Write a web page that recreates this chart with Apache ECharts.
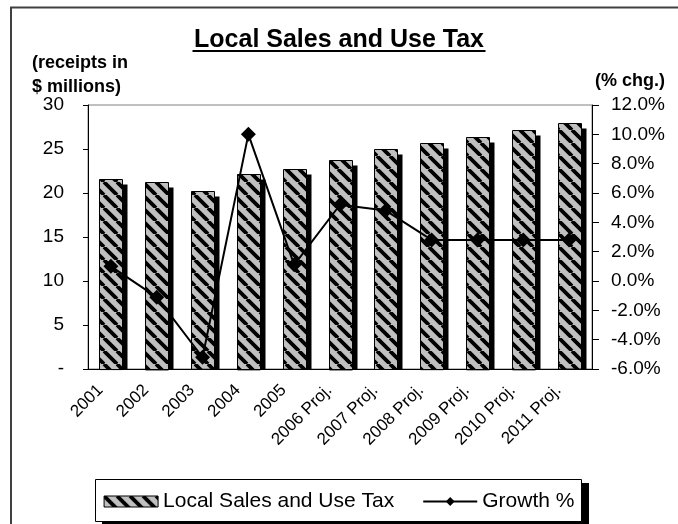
<!DOCTYPE html>
<html>
<head>
<meta charset="utf-8">
<script src="https://cdn.jsdelivr.net/npm/echarts@6/dist/echarts.min.js"></script>
<style>
  html, body { margin: 0; padding: 0; background: #fff; }
  #chart { width: 678px; height: 524px; }
</style>
</head>
<body>
<div id="chart"></div>
<script>
var years = ["2001", "2002", "2003", "2004", "2005", "2006 Proj.", "2007 Proj.",
  "2008 Proj.", "2009 Proj.", "2010 Proj.", "2011 Proj."];
var receipts = [21.6, 21.3, 20.2, 22.2, 22.7, 23.8, 25.0, 25.7, 26.4, 27.2, 27.9];
var growth = [1.0, -1.1, -5.2, 10.0, 1.1, 5.2, 4.8, 2.8, 2.8, 2.8, 2.8];
var leftTicks = { min: 0, max: 30, step: 5 };
var rightTicks = { min: -6, max: 12, step: 2 };

(function () {
  var font = "'Liberation Sans', Arial, sans-serif";

  // grey fill with black "\" hatching, like the old spreadsheet pattern
  function hatch() {
    var s = 13;
    var c = document.createElement("canvas");
    c.width = s;
    c.height = s;
    var ctx = c.getContext("2d");
    ctx.fillStyle = "#c0c0c0";
    ctx.fillRect(0, 0, s, s);
    ctx.strokeStyle = "#000";
    ctx.lineWidth = 3.8;
    ctx.beginPath();
    for (var k = -1; k <= 1; k++) {
      ctx.moveTo(k * s, 0);
      ctx.lineTo(k * s + s, s);
    }
    ctx.stroke();
    return c;
  }

  var pattern = { image: hatch(), repeat: "repeat" };
  var barData = receipts.map(function (v, i) { return [i, v]; });

  // hatched bar plus a solid black drop shadow to its lower right
  function renderBar(params, api) {
    var top = api.coord([api.value(0), api.value(1)]);
    var base = api.coord([api.value(0), 0]);
    var w = 23;
    var h = base[1] - top[1];
    var x = Math.round(top[0] - w / 2) + 0.5;
    var y = Math.round(top[1]) + 0.5;
    return {
      type: "group",
      children: [
        {
          type: "rect",
          shape: { x: x + 5, y: y + 5, width: w, height: h - 5 },
          style: { fill: "#000" }
        },
        {
          type: "rect",
          shape: { x: x, y: y, width: w, height: h },
          style: { fill: pattern, stroke: "#000", lineWidth: 1 }
        }
      ]
    };
  }

  var chart = echarts.init(document.getElementById("chart"), null, { renderer: "canvas" });

  chart.setOption({
    animation: false,
    textStyle: { fontFamily: font, color: "#000" },
    title: [
      {
        text: "Local Sales and Use Tax",
        left: "center",
        top: 28,
        padding: 0,
        textStyle: { fontSize: 25, fontWeight: "bold", color: "#000" }
      },
      {
        text: "(receipts in\n$ millions)",
        left: 32,
        top: 51,
        padding: 0,
        textStyle: { fontSize: 18, fontWeight: "bold", color: "#000", lineHeight: 24 }
      },
      {
        text: "(% chg.)",
        right: 13,
        top: 72,
        padding: 0,
        textStyle: { fontSize: 18, fontWeight: "bold", color: "#000" }
      }
    ],
    graphic: [
      {
        type: "rect",
        shape: { x: 11, y: 7.5, width: 700, height: 600 },
        style: { fill: null, stroke: "#404040", lineWidth: 2 },
        silent: true
      },
      {
        type: "rect",
        left: "center",
        top: 50,
        shape: { width: 293, height: 2 },
        style: { fill: "#000" },
        silent: true
      },
      {
        // legend frame with its drop shadow
        type: "rect",
        z: 1,
        shape: { x: 102, y: 483, width: 487, height: 42 },
        style: { fill: "#000" },
        silent: true
      },
      {
        type: "rect",
        z: 1,
        shape: { x: 95.5, y: 479.5, width: 486, height: 42 },
        style: { fill: "#fff", stroke: "#000", lineWidth: 1 },
        silent: true
      }
    ],
    legend: {
      left: "center",
      top: 479,
      z: 5,
      padding: [12, 8, 12, 8],
      itemGap: 28,
      itemWidth: 54,
      itemHeight: 11,
      textStyle: { fontSize: 21, color: "#000", fontFamily: font },
      data: [
        {
          name: "Local Sales and Use Tax",
          icon: "rect",
          itemStyle: { borderColor: "#000", borderWidth: 1 }
        },
        { name: "Growth %" }
      ]
    },
    grid: {
      left: 88,
      right: 86,
      top: 105,
      bottom: 155,
      show: true,
      borderColor: "#808080",
      borderWidth: 1
    },
    xAxis: {
      type: "category",
      data: years,
      z: 20,
      axisLine: { lineStyle: { color: "#000", width: 1 } },
      axisTick: { length: 5, lineStyle: { color: "#000" } },
      axisLabel: {
        rotate: 45,
        fontSize: 17,
        color: "#000",
        margin: 8,
        padding: [0, 15, 0, 0]
      }
    },
    yAxis: [
      {
        type: "value",
        min: leftTicks.min,
        max: leftTicks.max,
        interval: leftTicks.step,
        axisLine: { show: true, lineStyle: { color: "#000" } },
        axisTick: { show: true, length: 5, lineStyle: { color: "#000" } },
        splitLine: { show: false },
        axisLabel: {
          fontSize: 19,
          color: "#000",
          margin: 24,
          formatter: function (v) { return v === 0 ? "-" : String(v); }
        }
      },
      {
        type: "value",
        min: rightTicks.min,
        max: rightTicks.max,
        interval: rightTicks.step,
        axisLine: { show: true, lineStyle: { color: "#000" } },
        axisTick: { show: true, length: 7, lineStyle: { color: "#000" } },
        splitLine: { show: false },
        axisLabel: {
          fontSize: 19,
          color: "#000",
          margin: 19,
          formatter: function (v) { return v.toFixed(1) + "%"; }
        }
      }
    ],
    series: [
      {
        name: "Local Sales and Use Tax",
        type: "custom",
        data: barData,
        encode: { x: 0, y: 1 },
        z: 2,
        itemStyle: { color: pattern },
        renderItem: renderBar,
        silent: true
      },
      {
        name: "Growth %",
        type: "line",
        yAxisIndex: 1,
        data: growth,
        z: 12,
        symbol: "diamond",
        symbolSize: 15,
        lineStyle: { color: "#000", width: 2 },
        itemStyle: { color: "#000" },
        emphasis: { disabled: true }
      }
    ]
  });
})();
</script>
</body>
</html>
